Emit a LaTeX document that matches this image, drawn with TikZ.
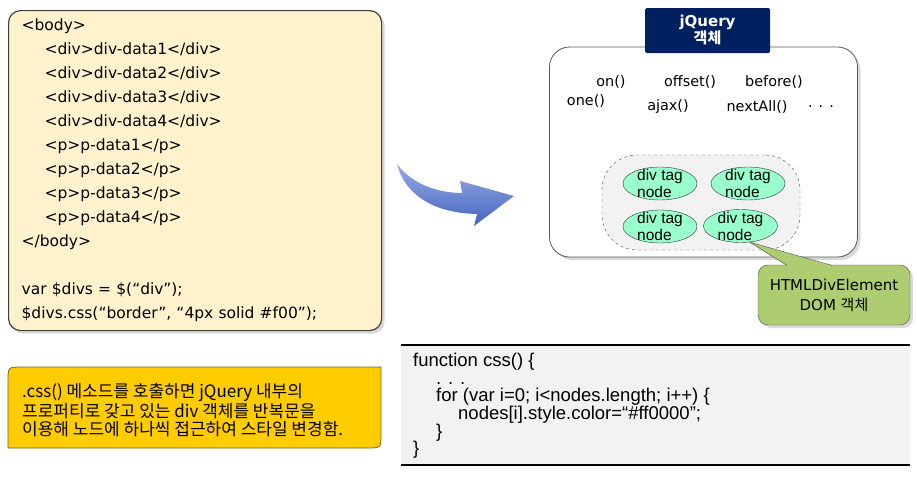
\documentclass[tikz,border=0pt]{standalone}
\usepackage{fontspec}
\setmainfont{DejaVu Sans}
\newfontfamily\krfont{Noto Sans CJK KR}
\newfontfamily\arialfont{Liberation Sans}
\usetikzlibrary{shapes, shadows, positioning, calc}

\definecolor{codefill}{RGB}{255,242,204}
\definecolor{navy}{RGB}{0,32,96}
\definecolor{mint}{RGB}{153,255,204}
\definecolor{leaf}{RGB}{174,204,112}
\definecolor{gold}{RGB}{255,204,0}
\definecolor{panelgray}{RGB}{242,242,242}

\begin{document}
\begin{tikzpicture}[x=1pt, y=-1pt,
        codebox/.style={rectangle, draw=black!75, line width=1.2pt, fill=codefill, rounded corners=12pt, drop shadow={shadow xshift=3pt, shadow yshift=-3pt, opacity=.3}, minimum width=373pt, minimum height=320pt, text width=347pt, inner xsep=13pt, align=left, font=\fontsize{15.5}{24}\selectfont},
        objbox/.style={rectangle, draw=black!65, thick, fill=white, rounded corners=20pt, drop shadow={shadow xshift=3pt, shadow yshift=-3pt, opacity=.3}, minimum width=308pt, minimum height=210pt},
        titlebox/.style={rectangle, fill=navy, text=white, rounded corners=1.5pt, minimum width=125pt, minimum height=45pt, inner sep=0pt, align=center, font=\bfseries\fontsize{15}{17}\selectfont},
        method/.style={inner sep=0pt, font=\fontsize{14.4}{16}\selectfont},
        groupbox/.style={rectangle, dashed, draw=black!70, fill=panelgray, rounded corners=35pt, minimum width=198pt, minimum height=95pt},
        divtext/.style={inner sep=0pt, align=left, font=\arialfont\fontsize{15.5}{17}\selectfont},
        divnode/.style={ellipse, draw=black!80, fill=mint, minimum width=74pt, minimum height=33pt, inner sep=0pt, label={[divtext]center:div tag\\node}},
        callbox/.style={rectangle, draw=black!70, fill=leaf, rounded corners=10pt, drop shadow={shadow xshift=3pt, shadow yshift=-3pt, opacity=.3}, minimum width=152pt, minimum height=60pt, align=center, font=\fontsize{15}{20}\selectfont},
        notetext/.style={inner sep=0pt, align=left, font=\krfont\fontsize{17}{18}\selectfont},
        loopcode/.style={inner sep=0pt, align=left, font=\arialfont\fontsize{18.5}{17.6}\selectfont}
    ]
        \useasboundingbox (0,0) rectangle (917,482);
        % Source code
        \node[codebox, anchor=north west] (src) at (8,10) {
            <body>\\
            \hspace*{23pt}<div>div-data1</div>\\
            \hspace*{23pt}<div>div-data2</div>\\
            \hspace*{23pt}<div>div-data3</div>\\
            \hspace*{23pt}<div>div-data4</div>\\
            \hspace*{23pt}<p>p-data1</p>\\
            \hspace*{23pt}<p>p-data2</p>\\
            \hspace*{23pt}<p>p-data3</p>\\
            \hspace*{23pt}<p>p-data4</p>\\
            </body>\\[24pt]
            var \$divs = \$(“div”);\\
            \$divs.css(“border”, “4px solid \#f00”);
        };
        % Curved arrow
        \shade[top color={rgb,255:red,150;green,172;blue,230}, bottom color={rgb,255:red,70;green,100;blue,190}]
            (397,164) .. controls (410,182) and (435,193) .. (462,193)
            -- (460,181) -- (514,196) -- (474,226) -- (477,214)
            .. controls (430,213) and (404,192) .. (397,164) -- cycle;
        % jQuery object
        \node[objbox] (jq) at (703.5,152) {};
        \node[titlebox] (title) at (707.5,30.5) {jQuery\\{\krfont 객체}};
        \node[method] (on) at (611,82) {on()};
        \node[method] (offset) at (690,82) {offset()};
        \node[method] (before) at (774,82) {before()};
        \node[method] (one) at (586,101) {one()};
        \node[method] (ajax) at (668,107) {ajax()};
        \node[method] (nextall) at (757,107) {nextAll()};
        \node[method] (more) at (821,107) {. . .};
        % DOM nodes
        \node[groupbox] (grp) at (701,202.5) {};
        \node[divnode] (d1) at (660,183.5) {};
        \node[divnode] (d2) at (748,183.5) {};
        \node[divnode] (d3) at (660,226.5) {};
        \node[divnode] (d4) at (740.5,226) {};
        % Callout
        \node[callbox] (dom) at (834,295) {HTMLDivElement\\DOM {\krfont 객체}};
        \fill[leaf] (d4.-60) -- ($(dom.north)+(-47,1)$) -- ($(dom.north)+(-2,1)$) -- cycle;
        \draw[black!70] ($(dom.north)+(-47,0.6)$) -- (d4.-60) -- ($(dom.north)+(-2,0.6)$);
        % Note
        \filldraw[fill=gold, draw={rgb,255:red,120;green,100;blue,40}, thick]
            (8,448) -- (8,381) .. controls (8,367) .. (22,367) -- (381,367)
            -- (381,434) .. controls (381,448) .. (367,448) -- cycle;
        \node[notetext, anchor=west] (note) at (22,410) {
            .css() 메소드를 호출하면 jQuery 내부의\\
            프로퍼티로 갖고 있는 div 객체를 반복문을\\
            이용해 노드에 하나씩 접근하여 스타일 변경함.
        };
        % css() body
        \fill[panelgray] (401,345) rectangle (910,465);
        \draw[line width=1.5pt] (401,345) -- (910,345);
        \draw[line width=1.5pt] (401,465) -- (910,465);
        \node[loopcode, anchor=north west] (loop) at (413,353) {
            function css() \{\\
            \hspace*{23pt}. . .\\
            \hspace*{23pt}for (var i=0; i<nodes.length; i++) \{\\
            \hspace*{45pt}nodes[i].style.color=“\#ff0000”;\\
            \hspace*{23pt}\}\\
            \}
        };
\end{tikzpicture}
\end{document}
